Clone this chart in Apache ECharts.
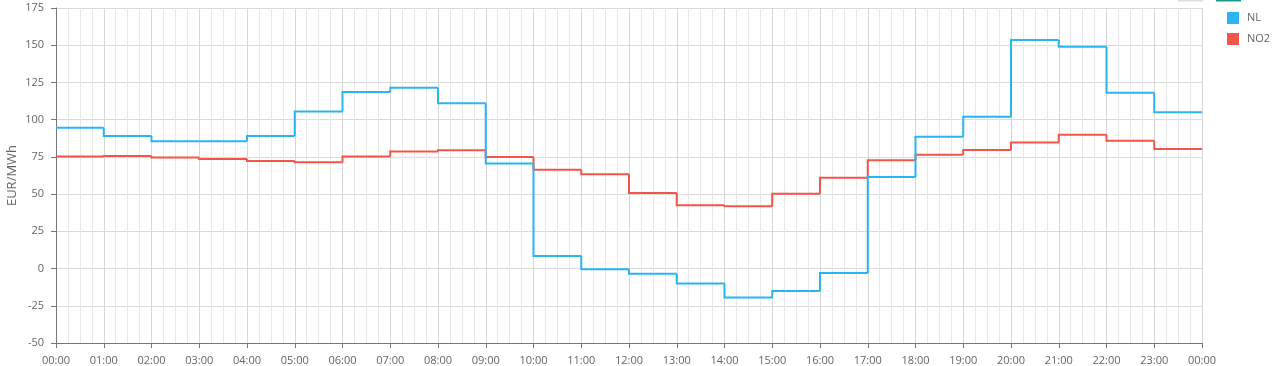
<!DOCTYPE html>
<html><head><meta charset="utf-8">
<script src="https://cdn.jsdelivr.net/npm/echarts@6/dist/echarts.min.js"></script>
<style>html,body{margin:0;padding:0;background:#fff}#c{width:1280px;height:366px}</style>
</head><body><div id="c"></div>
<script>
const hours = [0,1,2,3,4,5,6,7,8,9,10,11,12,13,14,15,16,17,18,19,20,21,22,23];
const nlValues = [94.5,89,85.5,85.5,89,105.5,118.5,121.5,111,70.5,8.5,-0.5,-3.5,-10,-19.5,-15,-3,61.5,88.5,102,153.5,149,118,105];
const no2Values = [75.2,75.6,74.6,73.5,72.2,71.4,75.2,78.6,79.4,75,66.4,63.3,50.7,42.5,41.8,50.2,61,72.8,76.4,79.6,84.7,89.9,85.8,80.3];
const yTicks = {min:-50, max:175, interval:25};
const seriesNames = ['NL','NO2'];
const seriesColors = ['#29b5f2','#f25649'];

// each item: [hour, value, previous hour's value]
function stepData(vals){
  return hours.map((h,i)=>[h, vals[i], i>0 ? vals[i-1] : vals[i]]);
}
function fmtHour(v){ const h = Math.round(v)%24; return (h<10?'0':'')+h+':00'; }

function stepSeries(name, vals, color, z){
  return {
    name:name, type:'custom', data:stepData(vals), z:z,
    itemStyle:{color:color},
    encode:{x:0,y:1},
    renderItem:function(params, api){
      const h = api.value(0), v = api.value(1), pv = api.value(2);
      const pts = [api.coord([h, pv]), api.coord([h, v]), api.coord([h+1, v])];
      return {type:'polyline', shape:{points:pts}, style:{stroke:color, lineWidth:2, fill:null, lineJoin:'miter'}};
    }
  };
}

const chart = echarts.init(document.getElementById('c'), null, {renderer:'canvas'});
const font = 'Open Sans';
chart.setOption({
  animation:false,
  textStyle:{fontFamily:font},
  color:seriesColors,
  grid:{left:56,right:78,top:8,bottom:23,containLabel:false,outerBoundsMode:'none'},
  legend:{
    orient:'vertical', left:1222, top:7, itemWidth:12, itemHeight:12, itemGap:9,
    icon:'rect', textStyle:{color:'#666',fontSize:11,fontFamily:font,padding:[0,0,0,3]},
    data:seriesNames
  },
  xAxis:{
    type:'value', min:0, max:24, interval:1,
    axisLine:{show:true,onZero:false,lineStyle:{color:'#777'}},
    axisTick:{show:true,length:5,lineStyle:{color:'#777'}},
    axisLabel:{color:'#666',fontSize:11,margin:12,formatter:fmtHour,fontFamily:font},
    splitLine:{show:true,lineStyle:{color:'#d6d6d6',width:1}},
    minorTick:{show:false,splitNumber:4},
    minorSplitLine:{show:true,lineStyle:{color:'#e8e8e8',width:1}}
  },
  yAxis:{
    type:'value', min:yTicks.min, max:yTicks.max, interval:yTicks.interval,
    name:'EUR/MWh', nameLocation:'middle', nameGap:37, nameRotate:90, nameMoveOverlap:false,
    nameTextStyle:{color:'#666',fontSize:13,fontFamily:font},
    axisLine:{show:true,lineStyle:{color:'#777'}},
    axisTick:{show:true,length:5,lineStyle:{color:'#777'}},
    axisLabel:{color:'#666',fontSize:11,margin:12,fontFamily:font},
    splitLine:{show:true,lineStyle:{color:'#dcdcdc',width:1}}
  },
  graphic:[
    {type:'rect',shape:{x:1178,y:0,width:25,height:1.5},style:{fill:'#dddddd'}},
    {type:'rect',shape:{x:1216,y:0,width:25,height:1.5},style:{fill:'#1a9c8c'}}
  ],
  series:[
    stepSeries(seriesNames[0], nlValues, seriesColors[0], 3),
    stepSeries(seriesNames[1], no2Values, seriesColors[1], 2)
  ]
});
</script></body></html>
